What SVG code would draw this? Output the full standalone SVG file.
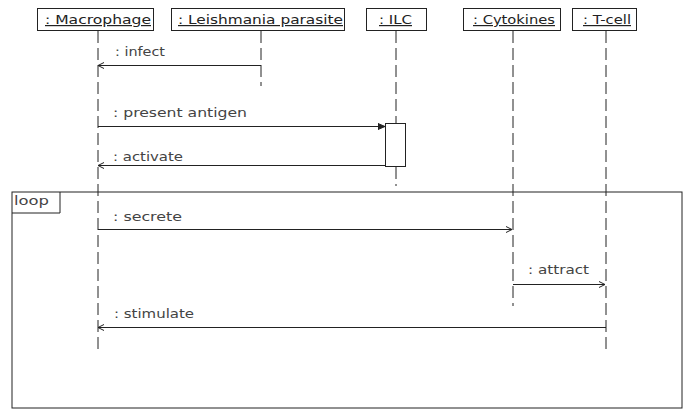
<svg xmlns="http://www.w3.org/2000/svg" width="686" height="411" viewBox="0 0 686 411">
<defs>
<style>
.head{fill:#fff;stroke:#222;stroke-width:1}
.ht{font-family:"DejaVu Sans",sans-serif;font-size:12px;fill:#222;text-decoration:underline}
.life{stroke:#222;stroke-width:1;stroke-dasharray:12 5;fill:none}
.msg{stroke:#222;stroke-width:1;fill:none}
.lbl{font-family:"DejaVu Sans",sans-serif;font-size:12px;fill:#444}
</style>
<marker id="open" markerWidth="8" markerHeight="8" refX="7" refY="4" orient="auto" markerUnits="userSpaceOnUse">
<path d="M1,1 L7,4 L1,7" fill="none" stroke="#222" stroke-width="1"/>
</marker>
<marker id="filled" markerWidth="8" markerHeight="8" refX="7" refY="4" orient="auto" markerUnits="userSpaceOnUse">
<path d="M0,1 L7,4 L0,7 Z" fill="#222" stroke="#222" stroke-width="1"/>
</marker>
</defs>
<rect width="686" height="411" fill="#fff"/>
<g id="loop">
<rect x="12" y="192" width="670" height="216" fill="none" stroke="#222" stroke-width="1"/>
<path d="M12,213 H60 V192" fill="none" stroke="#222" stroke-width="1"/>
<text x="14" y="205" class="lbl" textLength="35" lengthAdjust="spacingAndGlyphs">loop</text>
</g>
<g id="macrophage">
<rect class="head" x="37.5" y="8.5" width="116" height="22"/>
<text class="ht" x="45" y="24" textLength="106" lengthAdjust="spacingAndGlyphs">: Macrophage</text>
<line class="life" x1="98" y1="31" x2="98" y2="350"/>
</g>
<g id="leishmania">
<rect class="head" x="171.5" y="8.5" width="173" height="22"/>
<text class="ht" x="178" y="24" textLength="165" lengthAdjust="spacingAndGlyphs">: Leishmania parasite</text>
<line class="life" x1="261" y1="31" x2="261" y2="86"/>
</g>
<g id="ilc">
<rect class="head" x="366.5" y="8.5" width="60" height="22"/>
<text class="ht" x="379" y="24" textLength="33" lengthAdjust="spacingAndGlyphs">: ILC</text>
<line class="life" x1="396" y1="31" x2="396" y2="186"/>
<rect x="385.5" y="123.5" width="20" height="43" fill="#fff" stroke="#222" stroke-width="1"/>
</g>
<g id="cytokines">
<rect class="head" x="463.5" y="8.5" width="97" height="22"/>
<text class="ht" x="473" y="24" textLength="82" lengthAdjust="spacingAndGlyphs">: Cytokines</text>
<line class="life" x1="513" y1="31" x2="513" y2="306"/>
</g>
<g id="tcell">
<rect class="head" x="572.5" y="8.5" width="64" height="22"/>
<text class="ht" x="583" y="24" textLength="48" lengthAdjust="spacingAndGlyphs">: T-cell</text>
<line class="life" x1="606" y1="31" x2="606" y2="350"/>
</g>
<g id="connectors">
<line class="msg" x1="261" y1="65.5" x2="98" y2="65.5" marker-end="url(#open)"/>
<text class="lbl" x="115" y="56" textLength="50" lengthAdjust="spacingAndGlyphs">: infect</text>
<line class="msg" x1="98" y1="126.5" x2="385" y2="126.5" marker-end="url(#filled)"/>
<text class="lbl" x="113" y="117" textLength="134" lengthAdjust="spacingAndGlyphs">: present antigen</text>
<line class="msg" x1="385" y1="165.5" x2="98" y2="165.5" marker-end="url(#open)"/>
<text class="lbl" x="113" y="161" textLength="70" lengthAdjust="spacingAndGlyphs">: activate</text>
<line class="msg" x1="98" y1="229.5" x2="512" y2="229.5" marker-end="url(#open)"/>
<text class="lbl" x="113" y="221" textLength="69" lengthAdjust="spacingAndGlyphs">: secrete</text>
<line class="msg" x1="513" y1="284.5" x2="605" y2="284.5" marker-end="url(#open)"/>
<text class="lbl" x="528" y="274" textLength="61" lengthAdjust="spacingAndGlyphs">: attract</text>
<line class="msg" x1="606" y1="327.5" x2="98" y2="327.5" marker-end="url(#open)"/>
<text class="lbl" x="114" y="318" textLength="80" lengthAdjust="spacingAndGlyphs">: stimulate</text>
</g>
</svg>
